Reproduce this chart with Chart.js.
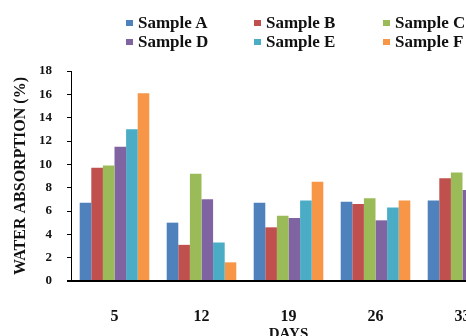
<!DOCTYPE html>
<html>
<head>
<meta charset="utf-8">
<script src="https://cdn.jsdelivr.net/npm/chart.js@4"></script>
<style>
  html, body { margin: 0; padding: 0; background: #fff; overflow: hidden; width: 466px; height: 336px; }
  #wrap { position: relative; width: 516px; height: 343px; }
  #legend { position: absolute; left: 0; top: 0; width: 516px; height: 60px; }
  .item { position: absolute; font: bold 17px "Liberation Serif", serif; color: #111; white-space: nowrap; line-height: 18px; }
  .item span.box { display: inline-block; width: 7px; height: 6px; margin-right: 5px; vertical-align: 2px; }
</style>
</head>
<body>
<div id="wrap">
  <canvas id="myChart" width="516" height="343"></canvas>
  <div id="legend"></div>
</div>
<script>
  const days = ['5', '12', '19', '26', '33'];
  const sampleA = [6.7, 5.0, 6.7, 6.8, 6.9];
  const sampleB = [9.7, 3.1, 4.6, 6.6, 8.8];
  const sampleC = [9.9, 9.2, 5.6, 7.1, 9.3];
  const sampleD = [11.5, 7.0, 5.4, 5.2, 7.8];
  const sampleE = [13.0, 3.3, 6.9, 6.3, 8.4];
  const sampleF = [16.1, 1.6, 8.5, 6.9, 10.2];
  const yTicks = { min: 0, max: 18, step: 2 };

  const serif = '"Liberation Serif", "Times New Roman", serif';

  const data = {
    labels: days,
    datasets: [
      { label: 'Sample A', data: sampleA, backgroundColor: '#4f81bd' },
      { label: 'Sample B', data: sampleB, backgroundColor: '#c0504d' },
      { label: 'Sample C', data: sampleC, backgroundColor: '#9bbb59' },
      { label: 'Sample D', data: sampleD, backgroundColor: '#8064a2' },
      { label: 'Sample E', data: sampleE, backgroundColor: '#4bacc6' },
      { label: 'Sample F', data: sampleF, backgroundColor: '#f79646' }
    ]
  };

  const config = {
    type: 'bar',
    data: data,
    options: {
      responsive: false,
      animation: false,
      datasets: { bar: { categoryPercentage: 0.8, barPercentage: 1.0 } },
      layout: { padding: { left: 0, right: 10, top: 71, bottom: 0 } },
      plugins: {
        legend: { display: false },
        tooltip: { enabled: false }
      },
      scales: {
        x: {
          z: 1,
          grid: { display: false },
          border: { display: true, color: '#000', width: 2 },
          ticks: { color: '#111', padding: 18, font: { family: serif, size: 16, weight: 'bold' } },
          title: {
            display: true, text: 'DAYS', color: '#111',
            padding: { top: 0, bottom: 0 },
            font: { family: serif, size: 15, weight: 'bold' }
          },
          afterFit: (scale) => { scale.height = 62; }
        },
        y: {
          min: yTicks.min,
          max: yTicks.max,
          grid: {
            display: true, drawOnChartArea: true, drawTicks: true, tickLength: 4,
            tickColor: '#000',
            // only the zero line is drawn across, as the baseline
            color: (c) => (c.tick && c.tick.value === 0 ? '#000' : 'rgba(0,0,0,0)'),
            lineWidth: (c) => (c.tick && c.tick.value === 0 ? 2 : 1)
          },
          border: { display: true, color: '#000', width: 1 },
          ticks: { stepSize: yTicks.step, color: '#111', padding: 15, font: { family: serif, size: 13, weight: 'bold' } },
          title: {
            display: true, text: 'WATER ABSORPTION (%)', color: '#111',
            padding: { top: 11, bottom: 0 },
            font: { family: serif, size: 16, weight: 'bold' }
          },
          afterFit: (scale) => { scale.width = 71; }
        }
      }
    }
  };

  const myChart = new Chart(document.getElementById('myChart'), config);

  // legend in html, 3 columns x 2 rows like the original
  const colX = [126, 254, 383];
  const rowY = [14, 33];
  const legend = document.getElementById('legend');
  myChart.data.datasets.forEach((ds, i) => {
    const item = document.createElement('div');
    item.className = 'item';
    item.style.left = colX[i % 3] + 'px';
    item.style.top = rowY[Math.floor(i / 3)] + 'px';
    const box = document.createElement('span');
    box.className = 'box';
    box.style.background = ds.backgroundColor;
    item.appendChild(box);
    item.appendChild(document.createTextNode(ds.label));
    legend.appendChild(item);
  });
</script>
</body>
</html>
